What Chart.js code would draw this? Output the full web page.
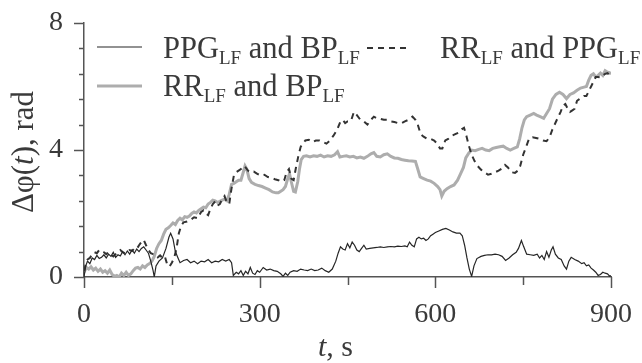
<!DOCTYPE html>
<html><head><meta charset="utf-8">
<script src="https://cdn.jsdelivr.net/npm/chart.js@4.4.0/dist/chart.umd.min.js"></script>
<style>html,body{margin:0;padding:0;background:#fff;}#wrap{position:relative;width:642px;height:363px;}</style>
</head><body><div id="wrap"><canvas id="c" width="642" height="363"></canvas></div>
<script>
// ---- data (time in s, phase difference in rad) ----
const tPPGBP=[0,3,6,10,14,18,22,26,30,34,38,42,46,50,54,58,62,66,70,74,78,82,86,90,94,98,102,106,110,114,118,120,123,128,134,140,145,148,152,156,160,164,170,176,182,188,194,200,206,212,218,224,230,236,242,248,252,255,260,264,268,272,276,280,284,288,292,296,300,306,312,318,324,330,336,340,344,348,352,358,364,370,376,382,388,394,400,406,412,418,424,430,434,438,442,446,450,454,458,462,466,470,474,478,482,488,494,500,506,512,518,524,530,536,542,548,552,556,560,564,568,572,576,580,584,588,592,596,600,606,612,618,624,630,636,642,646,650,654,658,662,666,671,678,684,690,696,702,708,714,720,726,732,738,742,747,751,756,762,768,774,778,782,786,790,794,798,801,805,810,815,820,824,828,832,838,844,850,854,858,862,866,870,874,878,882,886,890,894,898,900];
const vPPGBP=[0,0.35,0.5,0.42,0.6,0.55,0.68,0.58,0.62,0.7,0.6,0.72,0.65,0.78,0.62,0.7,0.66,0.8,0.7,0.82,0.72,0.85,0.75,0.88,0.8,0.9,0.95,0.85,0.75,0.5,0.2,0,0.35,0.5,0.6,0.9,1.25,1.38,1.2,0.8,0.62,0.45,0.52,0.55,0.45,0.5,0.42,0.5,0.48,0.55,0.45,0.5,0.48,0.55,0.5,0.55,0.45,0.05,0.15,0.1,0.2,0.05,0.18,0.1,0.3,0.12,0.08,0.2,0.15,0.3,0.22,0.25,0.2,0.18,0.1,0.02,0.12,0.05,0.15,0.2,0.18,0.25,0.22,0.2,0.25,0.2,0.22,0.28,0.2,0.15,0.25,0.5,0.75,0.95,0.88,0.85,1.05,0.92,1.1,1.0,0.85,0.8,0.9,1.0,0.88,0.9,0.92,0.93,0.95,0.93,0.95,0.96,0.95,0.97,0.96,0.98,0.95,1.1,1.0,0.95,1.2,1.25,1.2,1.22,1.15,1.2,1.3,1.35,1.4,1.45,1.5,1.53,1.48,1.42,1.38,1.38,1.3,1.0,0.6,0.25,0.02,0.35,0.58,0.65,0.68,0.7,0.7,0.72,0.7,0.65,0.52,0.6,0.7,0.78,0.9,1.15,0.95,0.72,0.7,0.68,0.72,0.6,0.68,0.55,0.8,0.62,0.85,0.95,0.72,0.6,0.55,0.35,0.25,0.5,0.62,0.55,0.5,0.42,0.45,0.35,0.38,0.28,0.22,0.15,0.05,0.08,0.15,0.12,0.1,0.02,0.05];

const tRRPPG=[0,3,6,10,14,18,22,26,30,34,38,42,46,50,54,58,62,66,70,74,78,82,86,90,94,98,102,106,110,114,118,122,126,130,134,138,142,146,150,154,158,162,166,170,176,182,188,194,200,204,208,212,216,220,224,228,232,236,240,244,248,252,256,260,264,268,272,276,280,284,290,296,302,308,314,320,326,332,338,342,346,350,354,358,362,366,370,374,378,384,390,396,402,408,414,420,426,432,438,442,446,450,456,461,466,472,478,484,490,495,500,506,512,518,524,530,536,542,548,554,561,566,570,575,580,586,592,598,603,608,612,617,622,628,634,640,645,649,653,657,662,667,672,678,684,690,696,702,708,714,719,724,730,736,741,745,750,755,760,766,772,778,784,790,795,800,805,810,814,818,822,826,830,834,838,842,846,850,854,858,862,866,870,874,878,882,886,890,894,898,900];
const vRRPPG=[0.2,0.4,0.55,0.6,0.72,0.78,0.75,0.85,0.82,0.78,0.72,0.78,0.7,0.65,0.72,0.8,0.85,0.78,0.75,0.8,0.85,0.82,0.9,0.88,1.0,1.1,1.17,1.0,0.85,0.75,0.72,0.7,0.62,0.68,0.6,0.65,0.4,0.33,0.45,0.6,0.9,1.38,1.62,1.72,1.75,1.8,1.88,1.85,2.05,2.1,2.0,1.95,2.15,2.3,2.38,2.25,2.3,2.45,2.55,2.35,2.3,2.8,3.2,3.3,3.35,3.4,3.5,3.45,3.35,3.3,3.32,3.25,3.2,3.22,3.15,3.12,3.08,3.05,3.0,3.05,3.3,3.4,3.1,3.05,3.45,3.8,4.1,4.2,4.3,4.32,4.25,4.3,4.3,4.25,4.2,4.3,4.45,4.63,4.9,4.95,4.85,4.9,4.92,5.2,5.1,4.95,4.9,4.8,4.95,5.05,5.0,4.98,4.95,4.95,4.9,4.88,4.85,4.84,4.9,4.95,5.05,4.95,4.8,4.5,4.42,4.35,4.35,4.3,4.2,4.05,4.05,4.3,4.35,4.45,4.5,4.55,4.65,4.7,4.45,4.15,3.85,3.65,3.5,3.38,3.3,3.22,3.25,3.3,3.35,3.42,3.53,3.45,3.3,3.28,3.35,3.5,3.85,4.1,4.35,4.4,4.38,4.35,4.3,4.28,4.4,4.65,4.85,5.05,5.2,5.4,5.45,5.3,5.2,5.25,5.3,5.55,5.6,5.65,5.7,5.7,5.85,6.0,6.15,6.3,6.3,6.28,6.35,6.4,6.42,6.35,6.4];

const tRRBP=[0,4,8,12,16,20,24,28,32,36,40,44,48,52,56,60,64,68,72,76,80,84,88,92,96,100,104,108,112,116,120,124,128,132,136,140,144,148,152,156,160,164,168,172,176,180,184,188,192,196,200,204,208,212,216,220,224,228,232,236,240,244,248,252,256,260,264,268,272,275,278,282,286,292,298,304,310,316,322,328,332,336,340,344,348,351,354,358,361,365,368,371,375,380,386,392,398,404,410,416,422,428,433,437,442,448,454,460,466,472,478,484,490,495,500,506,512,518,524,530,536,542,548,554,560,566,570,574,580,586,592,598,604,608,611,615,620,626,632,638,643,648,652,657,662,668,674,680,686,692,698,704,710,716,722,728,734,740,744,748,752,756,762,768,773,779,785,790,795,800,806,812,818,824,830,836,842,848,854,858,862,866,870,874,878,882,886,890,894,898,900];
const vRRBP=[0.15,0.3,0.25,0.32,0.22,0.28,0.18,0.25,0.15,0.2,0.12,0.22,0.08,0.02,0.05,0.0,0.12,0.05,0.15,0.05,0.1,0.2,0.28,0.3,0.25,0.35,0.3,0.38,0.42,0.5,0.65,0.9,1.05,1.15,1.35,1.5,1.55,1.62,1.7,1.65,1.78,1.85,1.8,1.9,1.88,1.92,2.0,2.05,2.02,2.1,2.15,2.2,2.18,2.3,2.35,2.42,2.4,2.35,2.38,2.42,2.45,2.4,2.6,2.92,2.95,3.0,3.05,3.05,3.3,3.5,3.4,3.1,2.98,2.92,2.88,2.85,2.8,2.75,2.68,2.65,2.65,2.7,2.75,2.85,3.1,3.25,3.0,2.7,2.68,3.0,3.4,3.7,3.8,3.82,3.78,3.82,3.8,3.84,3.78,3.82,3.8,3.85,3.95,3.78,3.8,3.82,3.78,3.8,3.75,3.78,3.74,3.8,3.88,3.92,3.8,3.78,3.85,3.88,3.8,3.75,3.74,3.7,3.68,3.66,3.65,3.64,3.4,3.15,3.1,3.05,3.02,2.95,2.85,2.75,2.55,2.7,2.78,2.85,2.9,3.05,3.25,3.45,3.75,3.9,4.0,3.98,4.02,4.05,4.0,3.98,4.05,4.08,4.1,4.12,4.05,4.0,4.05,4.1,4.35,4.7,4.95,5.05,5.1,5.15,5.1,5.05,5.0,5.15,5.3,5.6,5.75,5.82,5.75,5.62,5.75,5.8,5.88,5.95,5.98,6.0,6.2,6.35,6.4,6.3,6.35,6.42,6.35,6.5,6.45,6.42,6.45];

const xMajorTicks=[0,300,600,900];
const xMinorTicks=[150,450,750];
const yMajorTicks=[0,4,8];
const yMinorStep=0.8;

const seriesNames=['PPG_LF and BP_LF','RR_LF and PPG_LF','RR_LF and BP_LF'];

// ---- helpers ----
const pts=(ts,vs)=>ts.map((t,i)=>({x:t,y:vs[i]}));
const SERIF='"Liberation Serif", "Times New Roman", serif';
const TXT='#3a3a3a';
const AX='#555555';

const xAllTicks=[...xMajorTicks,...xMinorTicks].sort((a,b)=>a-b);
const yAllTicks=[];
for(let i=0;i<=Math.round(8/yMinorStep);i++) yAllTicks.push(Math.round(i*yMinorStep*100)/100);

function rich(ctx,x,y,parts,big,small,subDy){
  let cx=x;
  for(const [txt,isSub] of parts){
    ctx.font=(isSub?small:big)+'px '+SERIF;
    ctx.fillText(txt,cx,y+(isSub?subDy:0));
    cx+=ctx.measureText(txt).width;
  }
  return cx;
}

const decor={
  id:'decor',
  afterDraw(chart){
    const ctx=chart.ctx, xs=chart.scales.x, ys=chart.scales.y;
    ctx.save();
    // tick marks
    ctx.strokeStyle=AX; ctx.lineWidth=1.5;
    xAllTicks.forEach(v=>{
      const px=Math.round(xs.getPixelForValue(v))+0.5;
      const len=xMajorTicks.includes(v)?11:8;
      ctx.beginPath(); ctx.moveTo(px,xs.top); ctx.lineTo(px,xs.top+len); ctx.stroke();
    });
    yAllTicks.forEach(v=>{
      const py=Math.round(ys.getPixelForValue(v))+0.5;
      const len=yMajorTicks.includes(v)?10:5;
      ctx.beginPath(); ctx.moveTo(ys.right,py); ctx.lineTo(ys.right-len,py); ctx.stroke();
    });
    // legend
    const ds=chart.data.datasets;
    const sample=(x1,x2,y,d)=>{
      ctx.save(); ctx.strokeStyle=d.borderColor; ctx.lineWidth=d.borderWidth;
      ctx.setLineDash(d.borderDash||[]);
      ctx.beginPath(); ctx.moveTo(x1,y); ctx.lineTo(x2,y); ctx.stroke(); ctx.restore();
    };
    ctx.fillStyle=TXT; ctx.textBaseline='alphabetic'; ctx.textAlign='left';
    sample(97,142,47,ds[0]);
    rich(ctx,163,58,[['PPG',0],['LF',1],[' and BP',0],['LF',1]],30.5,19,6);
    sample(367,411,48,ds[1]);
    rich(ctx,440,58,[['RR',0],['LF',1],[' and PPG',0],['LF',1]],30.5,19,6);
    sample(97,142,86,ds[2]);
    rich(ctx,163,96,[['RR',0],['LF',1],[' and BP',0],['LF',1]],30.5,19,6);
    // x title  "t, s"
    const TF=30;
    ctx.font='italic '+TF+'px '+SERIF;
    const wT=ctx.measureText('t').width;
    ctx.font=TF+'px '+SERIF;
    const wR=ctx.measureText(', s').width;
    const cxT=(xs.left+xs.right)/2-12;
    let sx=cxT-(wT+wR)/2;
    ctx.font='italic '+TF+'px '+SERIF; ctx.fillText('t',sx,356);
    ctx.font=TF+'px '+SERIF; ctx.fillText(', s',sx+wT,356);
    // y title "Δφ(t), rad"
    ctx.translate(33,152); ctx.rotate(-Math.PI/2);
    const segs=[['Δφ(',''],['t','italic '],['), rad','']];
    let tot=0; segs.forEach(s=>{ctx.font=s[1]+'31px '+SERIF; tot+=ctx.measureText(s[0]).width;});
    let p=-tot/2;
    segs.forEach(s=>{ctx.font=s[1]+'31px '+SERIF; ctx.fillText(s[0],p,0); p+=ctx.measureText(s[0]).width;});
    ctx.restore();
  }
};

new Chart(document.getElementById('c'),{
  type:'line',
  data:{datasets:[
    {label:seriesNames[0],data:pts(tPPGBP,vPPGBP),borderColor:'#262626',borderWidth:1.2,pointRadius:0,tension:0},
    {label:seriesNames[1],data:pts(tRRPPG,vRRPPG),borderColor:'#333333',borderWidth:2,borderDash:[6,5],pointRadius:0,tension:0},
    {label:seriesNames[2],data:pts(tRRBP,vRRBP),borderColor:'#adadad',borderWidth:3,pointRadius:0,tension:0}
  ]},
  options:{
    responsive:false,animation:false,devicePixelRatio:1,
    layout:{padding:{top:23,right:31,left:0,bottom:0}},
    plugins:{legend:{display:false},tooltip:{enabled:false}},
    scales:{
      x:{type:'linear',min:0,max:900,
        afterFit(s){s.height=86;s.paddingLeft=0;s.paddingRight=0;},
        afterBuildTicks(s){s.ticks=xAllTicks.map(v=>({value:v}));},
        grid:{drawOnChartArea:false,drawTicks:false},
        border:{color:AX,width:1.5},
        ticks:{autoSkip:false,maxRotation:0,padding:21,color:TXT,font:{family:SERIF,size:28},
          callback:v=>xMajorTicks.includes(v)?String(v):''}
      },
      y:{type:'linear',min:0,max:8,
        afterFit(s){s.width=84;s.paddingTop=0;s.paddingBottom=0;},
        afterBuildTicks(s){s.ticks=yAllTicks.map(v=>({value:v}));},
        grid:{drawOnChartArea:false,drawTicks:false},
        border:{color:AX,width:1.5},
        ticks:{autoSkip:false,padding:21,color:TXT,font:{family:SERIF,size:28},
          callback:v=>yMajorTicks.includes(v)?String(v):''}
      }
    }
  },
  plugins:[decor]
});
</script></body></html>
